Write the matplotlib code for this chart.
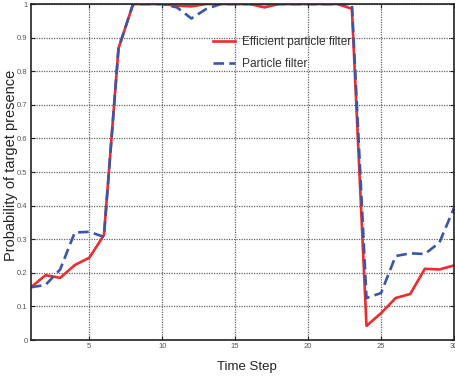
import matplotlib.pyplot as plt
import numpy as np

plt.rcParams['font.family'] = ['Liberation Sans', 'DejaVu Sans']

# time steps and presence probabilities for both filters
steps = np.arange(1, 31)
efficient_pf = [0.157, 0.193, 0.185, 0.223, 0.245, 0.312, 0.868, 1.0, 1.0, 1.0,
                0.995, 0.993, 1.0, 1.0, 1.0, 1.0, 0.99, 1.0, 1.0, 1.0,
                1.0, 1.0, 0.986, 0.042, 0.08, 0.125, 0.137, 0.212, 0.21, 0.222]
particle_pf = [0.157, 0.164, 0.21, 0.32, 0.322, 0.307, 0.868, 1.0, 1.0, 1.0,
               0.99, 0.957, 0.985, 1.0, 1.0, 1.0, 1.0, 1.0, 1.0, 1.0,
               1.0, 1.0, 1.0, 0.125, 0.14, 0.25, 0.258, 0.256, 0.29, 0.393]
xticks = [5, 10, 15, 20, 25, 30]
yticks = [0, 0.1, 0.2, 0.3, 0.4, 0.5, 0.6, 0.7, 0.8, 0.9, 1]
ytick_labels = ['0', '0.1', '0.2', '0.3', '0.4', '0.5', '0.6', '0.7', '0.8', '0.9', '1']

fig = plt.figure(figsize=(4.55, 3.77), dpi=100)
ax = fig.add_axes([0.0681, 0.0981, 0.9297, 0.8912])

ax.plot(steps, efficient_pf, color='#ee2b2e', lw=1.9, label='Efficient particle filter')
ax.plot(steps, particle_pf, color='#3b56a8', lw=1.9, ls=(0, (4, 2)), label='Particle filter')

ax.set_xlim(1, 30)
ax.set_ylim(0, 1)
ax.set_xticks(xticks)
ax.set_yticks(yticks)
ax.set_yticklabels(ytick_labels)
ax.tick_params(direction='in', length=3, labelsize=5.5, colors='#222222',
               labelcolor='#555555', top=True, right=True, pad=2.5)
ax.grid(True, ls=(0, (1, 1)), color='#666666', lw=0.9)
for s in ax.spines.values():
    s.set_linewidth(1.2)
    s.set_color('#222222')

ax.set_xlabel('Time Step', fontsize=9.5, color='#222222')
ax.xaxis.set_label_coords(0.51, -0.062)
ax.set_ylabel('Probability of target presence', fontsize=10.5, color='#222222')
ax.yaxis.set_label_coords(-0.03, 0.52)

leg = ax.legend(loc='upper left', bbox_to_anchor=(0.406, 0.937), frameon=False,
                fontsize=8.6, handlelength=1.8, handletextpad=0.6, labelspacing=0.85)
for t in leg.get_texts():
    t.set_color('#333333')

fig.savefig('out.png', dpi=100)
